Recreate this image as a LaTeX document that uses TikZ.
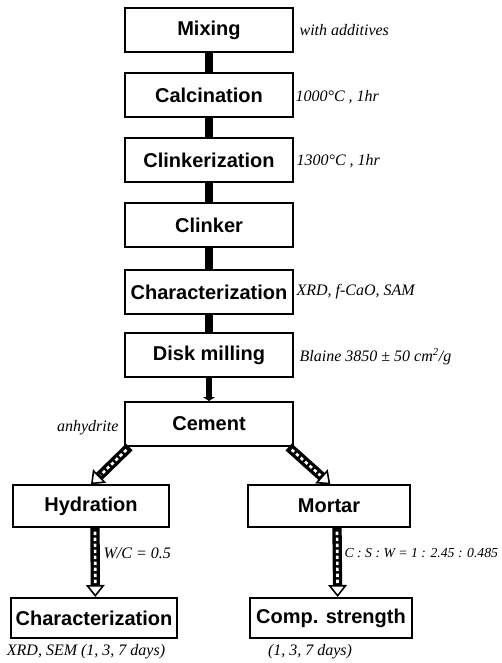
\documentclass[tikz,border=0pt]{standalone}
\usepackage{fontspec}
\setmainfont{Liberation Serif}
\setsansfont{Liberation Sans}
\usetikzlibrary{arrows.meta}

\begin{document}
\begin{tikzpicture}[x=0.75pt,y=-0.75pt,
    stage/.style={draw, line width=1.5pt, minimum width=126pt, minimum height=33pt,
        inner sep=1pt, font=\sffamily\bfseries\fontsize{15}{18}\selectfont},
    note/.style={inner sep=1pt, font=\itshape\fontsize{12}{14}\selectfont},
    bar/.style={line width=6pt},
    fat/.style={line width=7pt,
        -{Triangle[length=9pt,width=14pt,line width=1.2pt,fill=white]},
        postaction={draw=white, line width=2pt, dash pattern=on 2.5pt off 2pt,
            -, shorten >=10pt, shorten <=3pt}}]
    \useasboundingbox (0,0) rectangle (501,663);

    % Main process chain
    \node[stage] (mix)     at (209, 30)  {Mixing};
    \node[stage] (calc)    at (209, 95)  {Calcination};
    \node[stage] (clinkz)  at (209, 160) {Clinkerization};
    \node[stage] (clinker) at (209, 225) {Clinker};
    \node[stage] (charclk) at (209, 292) {Characterization};
    \node[stage] (mill)    at (209, 355) {Disk milling};
    \node[stage] (cement)  at (209, 424) {Cement};

    % Two branches
    \node[stage, minimum width=117pt, minimum height=31pt] (hyd)    at (91, 506)  {Hydration};
    \node[stage, minimum width=122pt, minimum height=31pt] (mortar) at (329, 506) {Mortar};
    \node[stage, minimum width=124pt, minimum height=30pt] (charhyd) at (94, 618) {Characterization};
    \node[stage, minimum width=122pt, minimum height=30pt] (comp)   at (331, 618) {Comp. strength};

    % Process conditions
    \node[note, anchor=west] (addv)  at (298, 30)  {with additives};
    \node[note, anchor=west] (tcalc) at (294, 97)  {1000°C , 1hr};
    \node[note, anchor=west] (tclk)  at (295, 161) {1300°C , 1hr};
    \node[note, anchor=west] (anal)  at (295, 292) {XRD, f-CaO, SAM};
    \node[note, anchor=west] (blain) at (298, 357) {Blaine 3850 ± 50 cm\textsuperscript{2}/g};
    \node[note, anchor=east] (anhy)  at (120, 428) {anhydrite};
    \node[note, anchor=west] (wc)    at (102, 553) {W/C = 0.5};
    \node[note, anchor=west, font=\itshape\fontsize{10.3}{12}\selectfont] (csw) at (343, 553) {C : S : W = 1 : 2.45 : 0.485};
    \node[note] (xrd)  at (86, 652)  {XRD, SEM (1, 3, 7 days)};
    \node[note] (days) at (310, 652) {(1, 3, 7 days)};

    % Connectors
    \draw[bar] (mix) -- (calc);
    \draw[bar] (calc) -- (clinkz);
    \draw[bar] (clinkz) -- (clinker);
    \draw[bar] (clinker) -- (charclk);
    \draw[bar] (charclk) -- (mill);
    \draw[line width=5pt, -{Triangle[length=3pt,width=9pt]}] (mill) -- (cement);
    \draw[fat] ([xshift=4pt]cement.south west) -- (hyd.north);
    \draw[fat] ([xshift=-4pt]cement.south east) -- ([xshift=1pt]mortar.north);
    \draw[fat] ([xshift=3pt]hyd.south) -- ([xshift=1pt]charhyd.north);
    \draw[fat] ([xshift=6pt]mortar.south) -- ([xshift=5pt]comp.north);
\end{tikzpicture}
\end{document}
